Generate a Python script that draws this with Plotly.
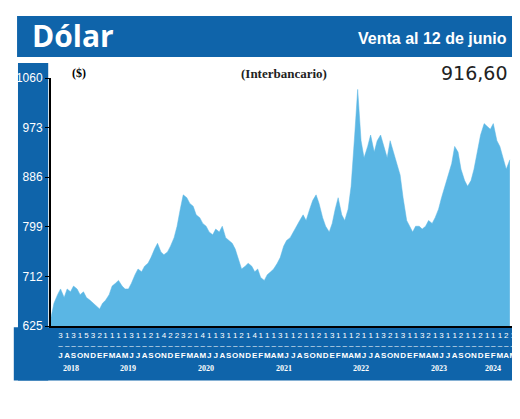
import plotly.graph_objects as go
import pandas as pd

values = [640,665,680,690,675,690,685,695,690,680,685,675,
670,665,660,655,665,670,680,695,700,705,695,690,690,700,715,725,720,730,735,745,760,770,755,750,
755,765,780,800,830,855,850,840,835,820,815,805,800,790,785,795,790,800,780,775,770,760,740,725,
730,735,730,720,725,710,705,715,720,725,735,745,765,775,780,790,800,810,820,810,830,845,855,840,
815,800,790,805,830,850,820,810,830,870,960,1040,950,920,940,960,930,950,960,940,920,950,930,910,
890,850,810,800,790,800,800,795,800,810,805,815,830,850,870,890,910,940,930,900,880,870,880,900,
930,960,980,975,970,980,950,940,920,900,916.6]
dates = pd.date_range("2018-07-01", periods=len(values), freq="SMS")
yticks = [625, 712, 799, 886, 973, 1060]
month_letters = list("JASOND") + list("EFMAMJJASOND")*5 + list("EFMAMJ")
day_digits = list("313153211113112142232141131121411131121121311121113213113213112112111212")
months = pd.date_range("2018-07-15", periods=72, freq="MS") + pd.Timedelta(days=14)
years = ["2018","2019","2020","2021","2022","2023","2024"]
year_mid = ["2018-10-01","2019-07-01","2020-07-01","2021-07-01","2022-07-01","2023-07-01","2024-03-15"]

BLUE = "#0f64aa"
NARROW = "Liberation Sans Narrow, Liberation Sans"
fig = go.Figure(go.Scatter(x=dates, y=values, mode="lines", line=dict(color="#5ab6e4", width=0.5),
                           fill="tozeroy", fillcolor="#5ab6e4"))
shapes = [
    dict(type="rect", xref="paper", yref="paper", x0=-0.073, x1=0.995, y0=1.085, y1=1.25, fillcolor=BLUE, line_width=0, layer="below"),
    dict(type="rect", xref="paper", yref="paper", x0=-0.071, x1=-0.006, y0=-0.22, y1=1.06, fillcolor=BLUE, line_width=0, layer="below"),
    dict(type="rect", xref="paper", yref="paper", x0=-0.08, x1=1.01, y0=-0.22, y1=-0.005, fillcolor=BLUE, line_width=0, layer="below"),
]
ann = [
    dict(text="<b>Dólar</b>", x=-0.045, y=1.17, xref="paper", yref="paper", xanchor="left", yanchor="middle", showarrow=False,
         font=dict(family="Open Sans", size=30, color="white")),
    dict(text="<b>Venta al 12 de junio</b>", x=0.985, y=1.16, xref="paper", yref="paper", xanchor="right", yanchor="middle", showarrow=False,
         font=dict(family=NARROW, size=16, color="white")),
    dict(text="<b>($)</b>", x=0.04, y=1.02, xref="paper", yref="paper", xanchor="left", yanchor="middle", showarrow=False,
         font=dict(family="Liberation Serif", size=12, color="black")),
    dict(text="<b>(Interbancario)</b>", x=0.5, y=1.02, xref="paper", yref="paper", xanchor="center", yanchor="middle", showarrow=False,
         font=dict(family="Liberation Serif", size=13, color="#222")),
    dict(text="916,60", x=0.985, y=1.02, xref="paper", yref="paper", xanchor="right", yanchor="middle", showarrow=False,
         font=dict(family="DejaVu Sans", size=19, color="#222")),
]
for yr, xm in zip(years, year_mid):
    ann.append(dict(text="<b>"+yr+"</b>", x=xm, y=-0.196, xref="x", yref="paper", showarrow=False,
                    font=dict(family="Liberation Serif", size=8, color="white")))
fig.update_layout(
    width=520, height=419, margin=dict(l=43, r=12, t=70, b=101),
    paper_bgcolor="white", plot_bgcolor="white", showlegend=False,
    shapes=shapes, annotations=ann,
    xaxis=dict(range=["2018-07-01", "2024-06-30"], tickvals=months, automargin=False,
               ticktext=[d + "<br>–<br><b>" + m + "</b>" for d, m in zip(day_digits, month_letters)],
               tickangle=0, tickfont=dict(family=NARROW, size=8, color="white"),
               showgrid=False, showline=True, linecolor="black", linewidth=2, ticks=""),
    yaxis=dict(range=[625, 1060], tickvals=yticks, automargin=False,
               tickfont=dict(family=NARROW, size=12, color="white"),
               showgrid=False, showline=True, linecolor="black", linewidth=2, ticks="outside", ticklen=4, tickcolor="black"),
)
fig.write_html("out.html")
